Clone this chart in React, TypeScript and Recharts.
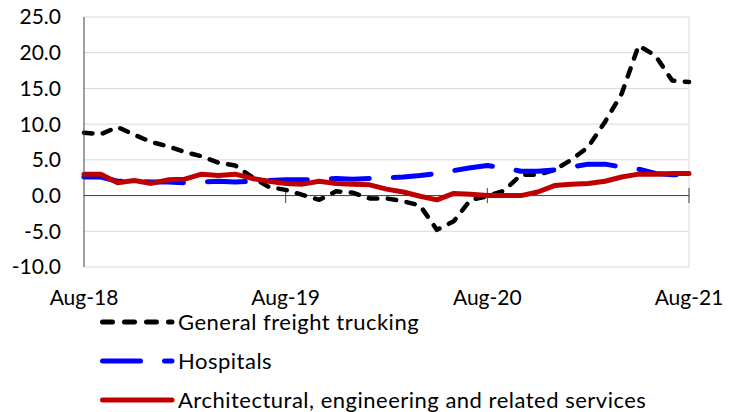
import React from 'react';
import { LineChart, Line, XAxis, YAxis, CartesianGrid, ReferenceLine, Legend } from 'recharts';

const years = ['18', '19', '20', '21'];
const monthNames = ['Jan', 'Feb', 'Mar', 'Apr', 'May', 'Jun', 'Jul', 'Aug', 'Sep', 'Oct', 'Nov', 'Dec'];

// Aug-18 .. Aug-21, monthly
const months: string[] = [];
for (let y = 0; y < years.length; y++) {
  for (let m = 0; m < 12; m++) {
    if ((y === 0 && m < 7) || (y === years.length - 1 && m > 7)) continue;
    months.push(`${monthNames[m]}-${years[y]}`);
  }
}

const trucking = [
  8.8, 8.6, 9.6, 8.5, 7.5, 6.9, 6.1, 5.5, 4.6, 4.2, 2.6, 1.2,
  0.8, 0.1, -0.6, 0.6, 0.4, -0.4, -0.4, -0.8, -1.4, -4.8, -3.6, -0.6,
  -0.1, 0.7, 2.9, 2.9, 3.6, 5.0, 6.8, 10.3, 14.3, 21.0, 19.6, 16.1, 15.9,
];

const hospitals = [
  2.6, 2.6, 2.0, 2.0, 1.9, 1.9, 1.8, 1.9, 2.0, 1.9, 2.0, 2.1,
  2.2, 2.2, 2.3, 2.4, 2.3, 2.4, 2.5, 2.6, 2.8, 3.1, 3.5, 3.9,
  4.2, 3.9, 3.4, 3.4, 3.6, 4.0, 4.4, 4.4, 4.0, 3.7, 3.1, 2.9, 3.0,
];

const architectural = [
  3.0, 3.0, 1.8, 2.1, 1.7, 2.2, 2.3, 3.0, 2.8, 3.0, 2.4, 2.0,
  1.7, 1.6, 2.0, 1.7, 1.6, 1.5, 0.9, 0.5, -0.1, -0.6, 0.3, 0.2,
  0.0, 0.0, 0.0, 0.5, 1.4, 1.6, 1.7, 2.0, 2.6, 3.0, 3.0, 3.1, 3.1,
];

const yTicks = [-10, -5, 0, 5, 10, 15, 20, 25];
const markedMonths = ['Aug-19', 'Aug-20', 'Aug-21'];

const data = months.map((month, i) => ({
  month,
  trucking: trucking[i],
  hospitals: hospitals[i],
  architectural: architectural[i],
}));

const series = [
  { key: 'trucking', name: 'General freight trucking', color: '#000000', dash: '8.5 10.5', legendDash: '10 12' },
  { key: 'hospitals', name: 'Hospitals', color: '#0000FF', dash: '38 24', legendDash: '38 24' },
  { key: 'architectural', name: 'Architectural, engineering and related services', color: '#C00000', dash: undefined, legendDash: undefined },
];

const renderLegend = () => (
  <div style={{ height: 102, marginLeft: 100 }}>
    {series.map((s, i) => (
      <div
        key={s.key}
        style={{ display: 'flex', alignItems: 'center', height: 24, marginBottom: i < series.length - 1 ? 15 : 0 }}
      >
        <svg width={78} height={24} style={{ display: 'block' }}>
          <line
            x1={2.5}
            y1={12}
            x2={72}
            y2={12}
            stroke={s.color}
            strokeWidth={5}
            strokeLinecap="round"
            strokeDasharray={s.legendDash}
          />
        </svg>
        <span style={{ fontSize: 22, letterSpacing: 0.5, lineHeight: '24px', color: '#000', whiteSpace: 'nowrap' }}>
          {s.name}
        </span>
      </div>
    ))}
  </div>
);

export default function App() {
  return (
    <div style={{ position: 'absolute', left: 0, top: 0, fontFamily: 'Lato, sans-serif' }}>
      <LineChart width={735} height={412} data={data} margin={{ top: 17, right: 46, left: 0, bottom: 0 }}>
        <CartesianGrid vertical={false} stroke="#d9d9d9" strokeWidth={1} />
        <XAxis
          dataKey="month"
          interval={11}
          axisLine={false}
          tickLine={false}
          tickMargin={17}
          height={43}
          tick={{ fontSize: 21, fill: '#000' }}
        />
        <YAxis
          domain={[-10, 25]}
          ticks={yTicks}
          width={84}
          tickFormatter={(v: number) => v.toFixed(1)}
          axisLine={{ stroke: '#404040', strokeWidth: 1 }}
          tickLine={false}
          tickMargin={17}
          tick={{ fontSize: 21, fill: '#000' }}
        />
        <ReferenceLine x="Aug-21" stroke="#d9d9d9" strokeWidth={1} />
        <ReferenceLine y={0} stroke="#404040" strokeWidth={1} />
        {markedMonths.map((m) => (
          <ReferenceLine
            key={m}
            segment={[{ x: m, y: -1.05 }, { x: m, y: 1.05 }]}
            stroke="#404040"
            strokeWidth={1}
          />
        ))}
        <Legend verticalAlign="bottom" wrapperStyle={{ left: 0, width: 735 }} content={renderLegend} />
        {series.map((s) => (
          <Line
            key={s.key}
            type="linear"
            dataKey={s.key}
            name={s.name}
            stroke={s.color}
            strokeWidth={s.key === 'trucking' ? 4.5 : 5}
            strokeDasharray={s.dash}
            strokeLinecap="round"
            strokeLinejoin="round"
            dot={false}
            activeDot={false}
            isAnimationActive={false}
          />
        ))}
      </LineChart>
    </div>
  );
}
